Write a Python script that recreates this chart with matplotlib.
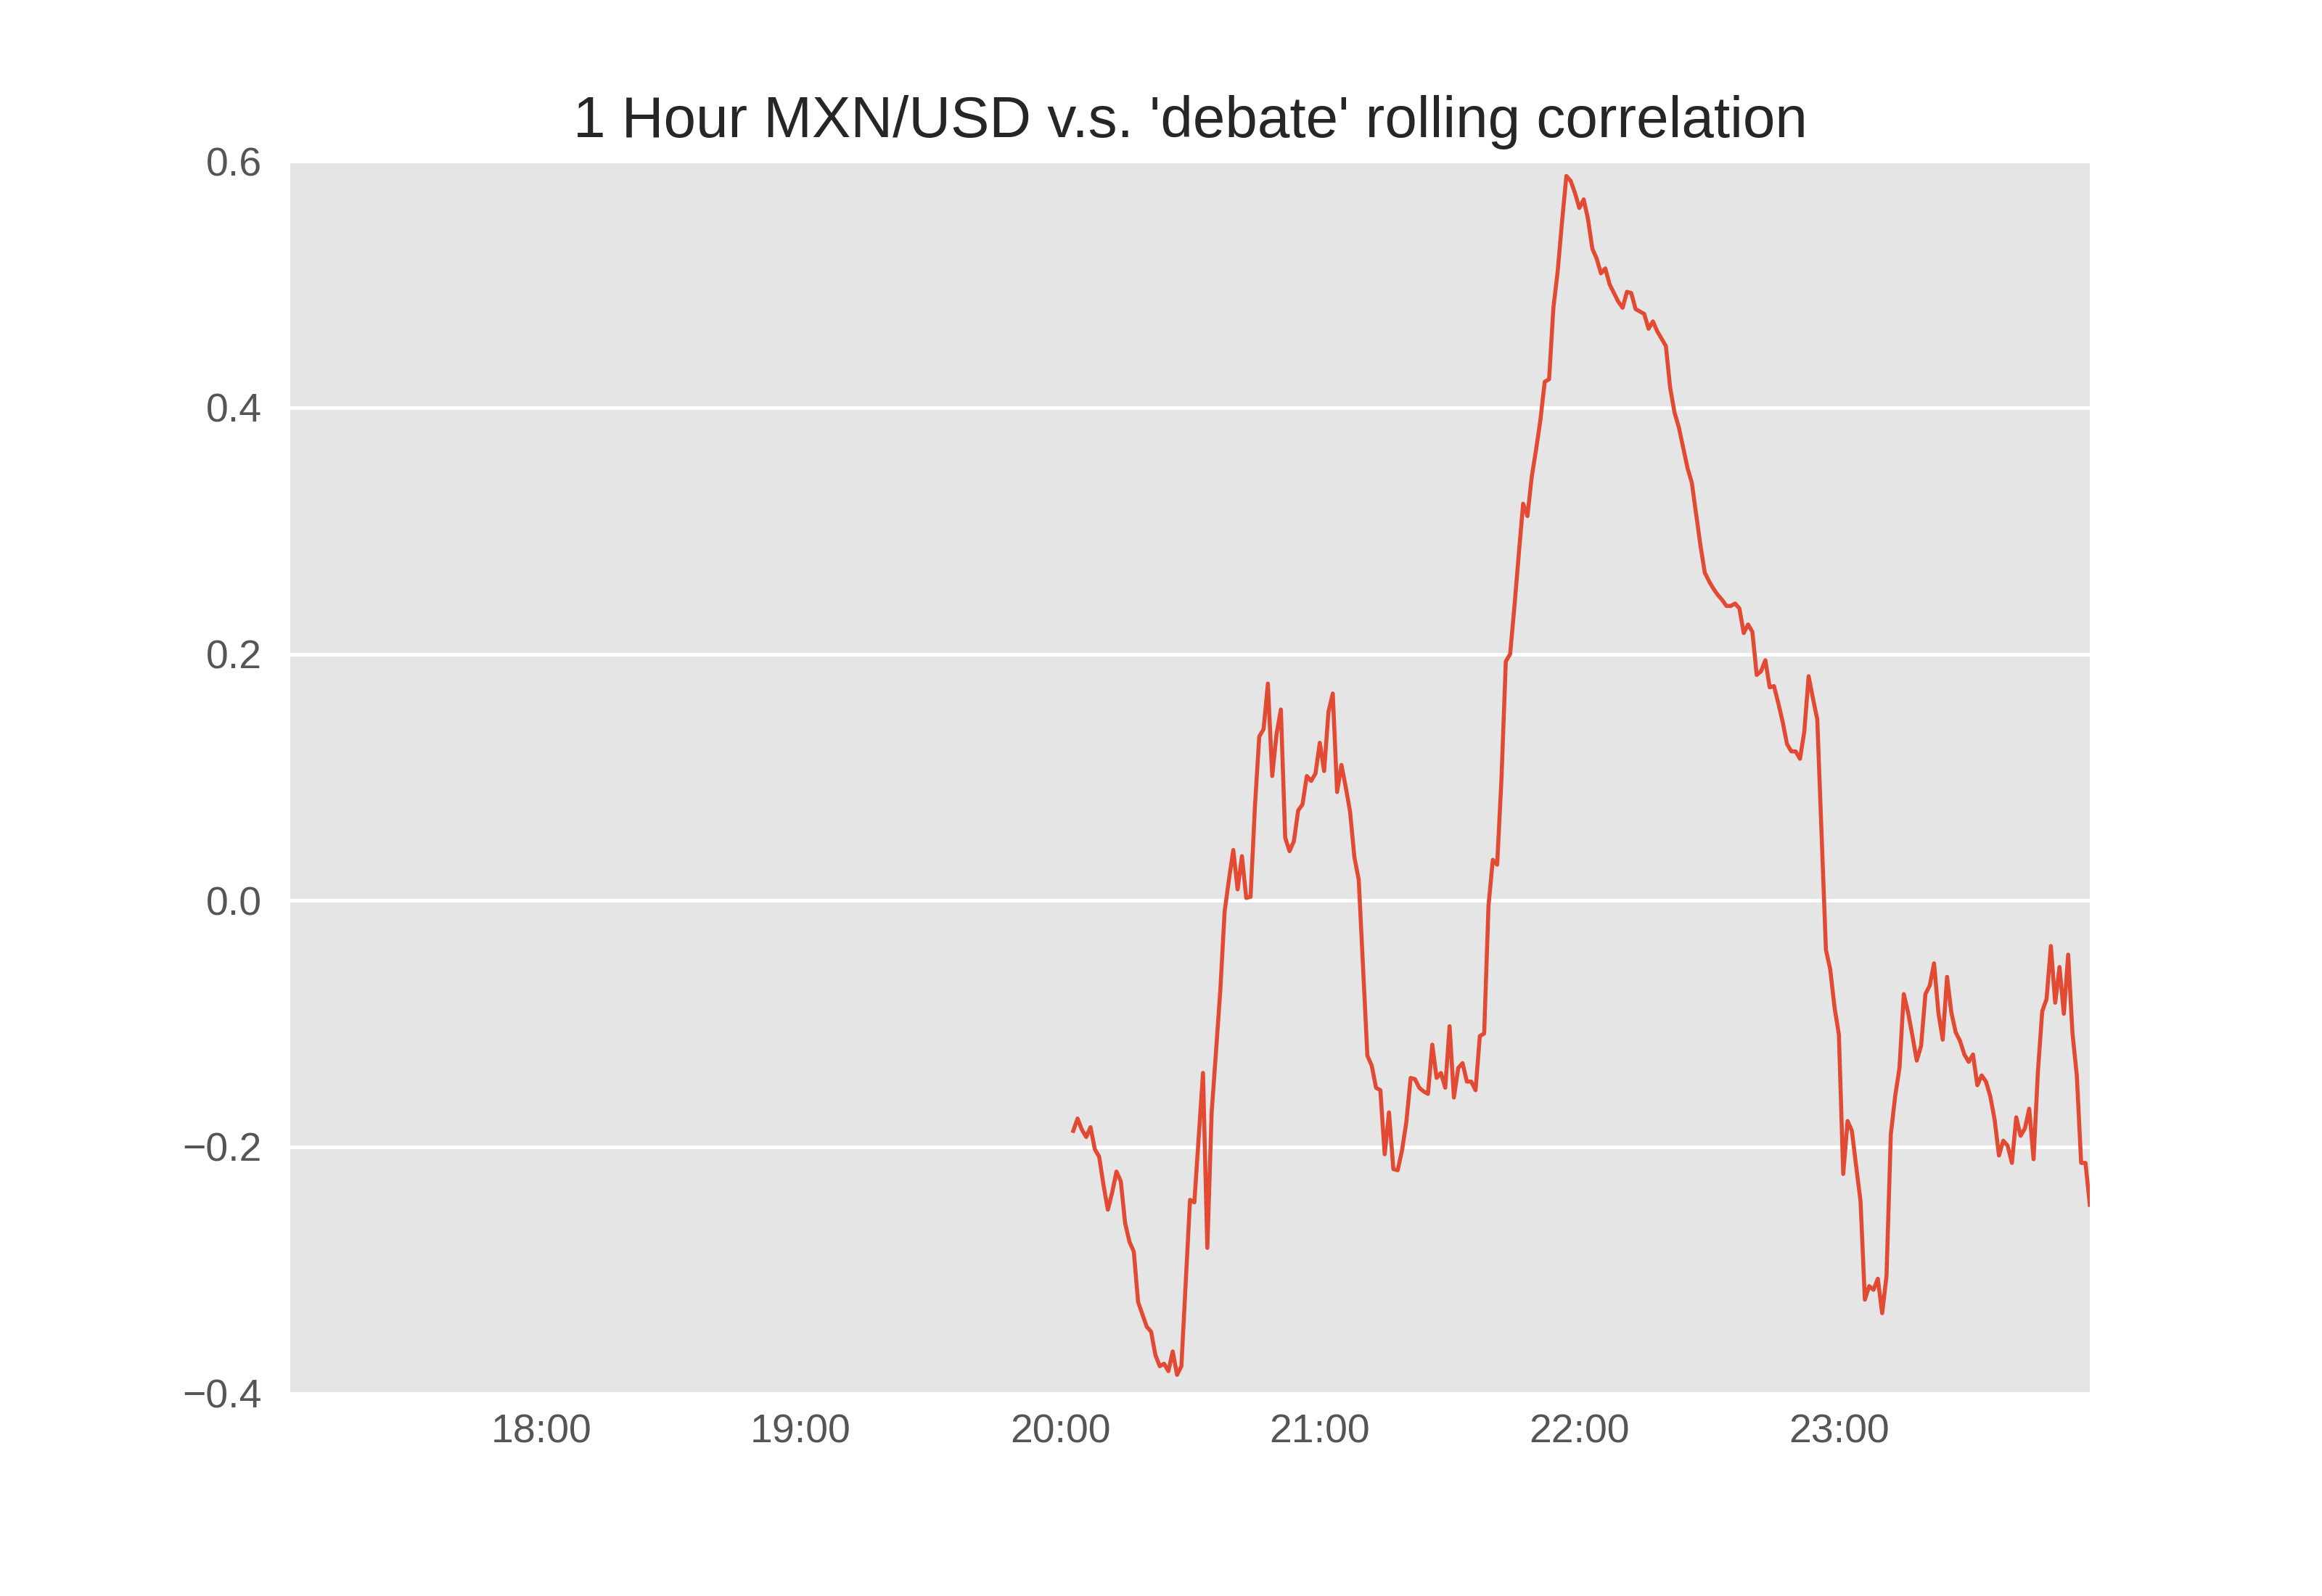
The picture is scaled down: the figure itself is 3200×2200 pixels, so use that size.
import matplotlib
matplotlib.use("Agg")
import matplotlib.pyplot as plt
import matplotlib.dates as mdates
import pandas as pd

TITLE = "1 Hour MXN/USD v.s. 'debate' rolling correlation"
BASE_TIME = "2016-09-26 20:00"
X_START = "2016-09-26 17:02"

# minutes after 20:00
minutes = [3, 4, 5, 6, 7, 8, 9, 10, 11, 12, 13, 14, 15, 16, 17, 18, 19, 20, 21, 22,
           23, 24, 25, 26, 27, 28, 29, 30, 31, 33, 34, 35, 36, 37, 38, 39, 40, 41, 42, 43,
           44, 45, 46, 47, 48, 49, 50, 51, 52, 53, 54, 55, 56, 57, 58, 59, 60, 61, 62, 63,
           64, 65, 66, 67, 68, 69, 70, 71, 72, 73, 74, 75, 76, 77, 78, 79, 80, 81, 82, 83,
           84, 85, 86, 87, 88, 89, 90, 91, 92, 93, 94, 95, 96, 97, 98, 99, 100, 101, 102, 103,
           104, 105, 106, 107, 108, 109, 110, 111, 112, 113, 114, 115, 116, 117, 118, 119, 120, 121, 122, 123,
           124, 125, 126, 127, 129, 130, 131, 132, 133, 135, 136, 137, 138, 140, 141, 142, 143, 145, 146, 148,
           149, 150, 151, 152, 153, 154, 155, 156, 157, 158, 159, 160, 161, 162, 163, 164, 165, 166, 167, 168,
           169, 170, 171, 172, 173, 174, 175, 176, 177, 178, 179, 180, 181, 182, 183, 184, 185, 186, 187, 188,
           189, 190, 191, 192, 193, 194, 195, 196, 197, 198, 199, 200, 201, 202, 203, 204, 205, 206, 207, 208,
           209, 210, 211, 212, 213, 214, 215, 216, 217, 218, 219, 220, 221, 222, 223, 224, 225, 226, 227, 228,
           229, 230, 231, 232, 233, 234, 235, 236, 237, 238]

corr = [-0.187, -0.177, -0.186, -0.192, -0.184, -0.202, -0.208, -0.231, -0.251, -0.237,
        -0.220, -0.228, -0.262, -0.277, -0.285, -0.326, -0.336, -0.346, -0.350, -0.369,
        -0.378, -0.376, -0.382, -0.366, -0.385, -0.378, -0.310, -0.243, -0.245, -0.140,
        -0.282, -0.172, -0.123, -0.073, -0.009, 0.017, 0.041, 0.009, 0.036, 0.002,
        0.003, 0.076, 0.133, 0.139, 0.176, 0.101, 0.135, 0.155, 0.051, 0.040,
        0.048, 0.073, 0.078, 0.101, 0.097, 0.103, 0.128, 0.105, 0.153, 0.168,
        0.088, 0.110, 0.092, 0.072, 0.035, 0.017, -0.055, -0.126, -0.134, -0.152,
        -0.154, -0.206, -0.172, -0.218, -0.219, -0.203, -0.180, -0.144, -0.145, -0.152,
        -0.155, -0.157, -0.117, -0.144, -0.140, -0.152, -0.102, -0.160, -0.136, -0.132,
        -0.147, -0.147, -0.154, -0.110, -0.108, -0.004, 0.033, 0.029, 0.099, 0.194,
        0.200, 0.239, 0.281, 0.322, 0.312, 0.344, 0.366, 0.390, 0.421, 0.423,
        0.481, 0.511, 0.551, 0.588, 0.584, 0.574, 0.562, 0.569, 0.553, 0.529,
        0.521, 0.509, 0.513, 0.500, 0.486, 0.481, 0.494, 0.493, 0.480, 0.476,
        0.464, 0.470, 0.462, 0.450, 0.416, 0.396, 0.384, 0.351, 0.339, 0.288,
        0.266, 0.259, 0.253, 0.248, 0.244, 0.239, 0.239, 0.241, 0.237, 0.217,
        0.224, 0.218, 0.183, 0.186, 0.195, 0.173, 0.174, 0.160, 0.145, 0.127,
        0.121, 0.121, 0.115, 0.137, 0.182, 0.164, 0.147, 0.053, -0.040, -0.056,
        -0.087, -0.109, -0.222, -0.179, -0.187, -0.216, -0.244, -0.324, -0.313, -0.316,
        -0.307, -0.335, -0.305, -0.190, -0.159, -0.136, -0.076, -0.091, -0.110, -0.130,
        -0.118, -0.076, -0.069, -0.051, -0.091, -0.113, -0.062, -0.091, -0.107, -0.114,
        -0.125, -0.131, -0.125, -0.150, -0.142, -0.147, -0.159, -0.178, -0.207, -0.195,
        -0.199, -0.213, -0.176, -0.191, -0.185, -0.169, -0.210, -0.139, -0.090, -0.080,
        -0.037, -0.083, -0.054, -0.092, -0.044, -0.108, -0.142, -0.213, -0.213, -0.247]

y_ticks = [-0.4, -0.2, 0.0, 0.2, 0.4, 0.6]

times = (pd.Timestamp(BASE_TIME) + pd.to_timedelta(minutes, unit="m")).to_pydatetime()

plt.rcParams['font.family'] = ['Liberation Sans', 'DejaVu Sans']

fig = plt.figure(figsize=(8, 5.5), dpi=400)
ax = fig.add_axes([0.125, 0.127, 0.775, 0.772])
ax.set_facecolor('#E5E5E5')
ax.plot(times, corr, color='#E24A33', lw=1.0)

ax.set_xlim(pd.Timestamp(X_START).to_pydatetime(), times[-1])
ax.set_ylim(y_ticks[0], y_ticks[-1])
ax.set_yticks(y_ticks)
ax.xaxis.set_major_locator(mdates.HourLocator())
ax.xaxis.set_major_formatter(mdates.DateFormatter('%H:%M'))

ax.yaxis.grid(True, color='white', lw=0.9)
ax.xaxis.grid(False)
ax.set_axisbelow(True)
for s in ax.spines.values():
    s.set_visible(False)
ax.tick_params(length=0, colors='#555555', labelsize=10)
ax.tick_params(axis='x', pad=5)
ax.tick_params(axis='y', pad=7)
ax.set_title(TITLE, fontsize=14.4, color='#262626')

fig.savefig('out.png', dpi=400)
